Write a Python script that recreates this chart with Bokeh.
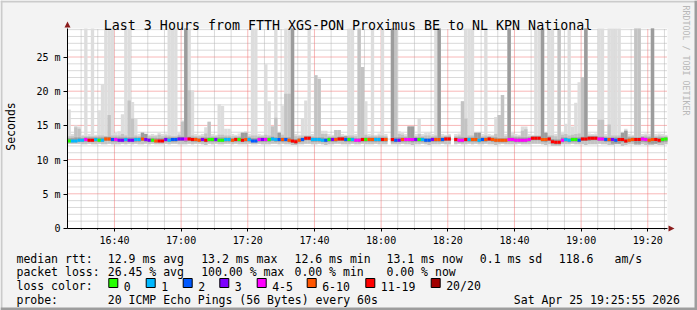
import numpy as np
from bokeh.plotting import figure
from bokeh.models import Range1d, FixedTicker, LinearAxis, ColumnDataSource
from bokeh.core.properties import value
from bokeh.embed import file_html
from bokeh.resources import INLINE

nan = float("nan")

# ---------------- data ----------------
START = "16:25:55"          # start of the 3-hour window
STEP_MIN = 1.0              # one sample per minute

# median RTT per sample (ms); nan = 20/20 loss
median = [
    12.8, 12.8, 12.8, 12.9, 12.9, 13.0, 12.9, 12.9, 13.0, 12.9, 12.9, 13.1, 13.1, 13.0, 13.0, 12.9, 12.9, 13.0, 12.9, 12.9,
    13.0, 13.0, 13.1, 13.0, 12.9, 12.9, 12.8, 12.8, 12.8, 13.0, 12.9, 13.0, 13.0, 13.1, 13.1, 13.1, 13.1, 13.0, 13.0, 12.9,
    13.0, 12.9, 13.0, 13.0, 13.0, 12.9, 12.9, 13.0, 13.0, 12.9, 13.0, 13.0, 12.9, 13.0, 13.0, 12.8, 12.8, 13.0, 13.0, 13.0,
    13.0, 13.1, 13.0, 13.0, 13.0, 13.0, 12.9, 12.8, 12.7, 12.9, 13.0, 13.2, 13.2, 13.0, 13.0, 13.0, 12.9, 12.9, 13.0, 13.0,
    13.0, 13.1, 13.1, 13.0, 13.0, 13.0, 12.9, 12.9, 13.0, 13.0, 13.0, 13.0, 13.0, 13.0, 13.0, 13.0, nan, 13.0, 12.9, 12.9,
    13.0, 13.0, 13.0, 13.0, 13.0, 13.0, 13.0, 12.9, 12.9, 13.0, 13.0, 13.0, 13.0, 13.1, 13.1, nan, 13.0, 12.9, 12.9, 13.0,
    13.0, 13.0, 13.0, 12.9, 13.0, 13.0, 13.1, 13.0, 12.9, 12.9, 12.9, 12.9, 13.0, 13.0, 12.9, 12.9, 12.9, 12.9, 13.0, 13.2,
    13.2, 13.2, 13.0, 13.0, 13.1, 12.7, 12.6, 12.6, 12.9, 13.0, 12.9, 13.0, 13.0, 12.9, 13.1, 13.1, 13.2, 13.2, 13.2, 13.1,
    13.1, 13.0, 13.0, 13.0, 12.9, 13.0, 13.0, 12.8, 12.9, 13.0, 13.0, 13.0, 13.1, 13.0, 12.9, 13.0, 13.0, 12.9, 13.0, 13.1,
]

# lost pings out of 20 per sample
loss = [
    0, 1, 1, 1, 1, 5, 15, 15, 1, 0, 1, 8, 8, 2, 5, 3, 3, 1, 3, 3,
    1, 1, 8, 3, 3, 0, 8, 15, 15, 3, 1, 2, 2, 3, 3, 5, 15, 15, 8, 8,
    3, 15, 0, 0, 3, 0, 0, 1, 1, 8, 15, 0, 15, 8, 1, 2, 2, 5, 3, 5,
    0, 1, 1, 2, 8, 2, 8, 15, 15, 8, 2, 15, 15, 1, 1, 1, 1, 2, 0, 3,
    8, 15, 15, 2, 0, 1, 5, 5, 15, 0, 8, 8, 1, 1, 15, 8, 20, 15, 2, 3,
    8, 5, 5, 5, 3, 0, 1, 2, 2, 3, 8, 8, 2, 15, 15, 20, 15, 5, 5, 15,
    1, 8, 8, 1, 2, 8, 15, 8, 8, 8, 8, 8, 5, 5, 5, 5, 5, 5, 5, 15,
    15, 15, 8, 8, 15, 15, 15, 15, 5, 1, 1, 0, 0, 2, 15, 15, 15, 15, 15, 5,
    5, 2, 8, 3, 2, 15, 15, 15, 8, 8, 15, 15, 5, 5, 8, 8, 15, 15, 0, 0,
]

# smoke: highest ping (ms; 40 = off the chart), inner quantile tops, lowest pings
smoke_max = [
    17.4, 13.8, 15.1, 14.9, 13.7, 40, 13.8, 40, 13.7, 17.3, 21.1, 40, 40, 40, 14.0, 14.2, 16.7, 40, 40, 18.5,
    16.1, 13.8, 14.1, 13.9, 13.7, 13.8, 13.7, 14.0, 13.8, 13.9, 40, 40, 40, 14.0, 15.8, 40, 40, 20.2, 13.8, 13.7,
    13.8, 14.8, 15.6, 13.8, 13.7, 18.2, 17.9, 14.6, 14.6, 13.8, 13.7, 13.9, 14.0, 14.2, 13.8, 40, 40, 13.8, 13.7, 24.0,
    18.6, 15.0, 40, 14.0, 18.0, 40, 40, 40, 13.8, 13.7, 16.1, 18.7, 40, 13.8, 22.4, 21.9, 14.3, 14.3, 13.8, 13.7,
    14.4, 14.4, 13.8, 13.7, 40, 40, 13.8, 40, 23.6, 18.6, 13.8, 40, 13.7, 13.9, 40, 13.8, nan, 40, 40, 14.2,
    14.0, 13.8, 14.9, 14.9, 13.8, 16.0, 13.8, 14.0, 14.0, 13.8, 40, 40, 13.8, 13.7, 13.8, nan, 13.8, 13.9, 18.6, 40,
    40, 40, 14.0, 14.0, 13.8, 40, 13.8, 13.7, 16.3, 16.6, 19.5, 13.8, 40, 14.0, 13.8, 13.7, 14.9, 14.9, 13.8, 13.7,
    40, 40, 40, 14.1, 40, 40, 13.8, 40, 14.0, 15.3, 40, 14.9, 18.4, 21.4, 22.1, 40, 13.9, 13.8, 13.9, 40,
    40, 13.8, 40, 40, 40, 40, 14.0, 14.6, 13.8, 13.7, 40, 40, 13.8, 13.9, 13.8, 40, 13.8, 13.9, 13.8, 13.7,
]
smoke_mid = [
    13.5, 13.5, 14.8, 14.6, 13.5, 13.5, 13.5, 13.5, 13.5, 13.6, 13.6, 13.5, 16.6, 13.6, 13.6, 13.6, 13.8, 13.6, 18.7, 16.1,
    13.6, 13.5, 14.0, 13.8, 13.5, 13.5, 13.5, 13.7, 13.5, 13.6, 13.6, 13.5, 13.5, 13.7, 15.6, 40, 20.2, 13.6, 13.5, 13.5,
    13.5, 13.9, 15.6, 13.5, 13.5, 13.7, 13.7, 13.6, 13.6, 13.5, 13.5, 13.5, 14.0, 14.0, 13.5, 13.6, 13.6, 13.5, 13.5, 13.7,
    13.6, 14.9, 16.2, 14.0, 13.7, 19.7, 19.7, 40, 13.5, 13.5, 13.6, 13.6, 13.6, 13.5, 22.4, 21.9, 13.8, 13.8, 13.5, 13.5,
    14.4, 14.4, 13.5, 13.5, 13.6, 13.6, 13.5, 40, 23.6, 13.7, 13.5, 13.6, 13.5, 13.6, 13.6, 13.5, nan, 40, 40, 13.8,
    13.7, 13.5, 14.9, 14.9, 13.5, 13.8, 13.5, 13.6, 13.6, 13.5, 13.6, 40, 13.5, 13.5, 13.6, nan, 13.5, 13.6, 18.6, 16.1,
    13.6, 13.6, 14.0, 14.0, 13.5, 13.6, 13.5, 13.5, 13.8, 16.6, 19.5, 13.5, 40, 13.6, 13.5, 13.5, 14.3, 14.5, 13.5, 13.5,
    13.6, 13.6, 40, 14.0, 13.6, 13.6, 13.5, 40, 13.7, 13.8, 13.6, 13.7, 13.8, 13.9, 22.1, 40, 13.6, 13.6, 13.6, 15.9,
    15.9, 13.5, 15.2, 13.6, 13.6, 13.6, 14.0, 14.3, 13.5, 13.5, 40, 40, 13.5, 13.6, 13.5, 40, 13.5, 13.6, 13.5, 13.5,
]
smoke_core = [
    13.2, 13.2, 13.3, 13.3, 13.2, 13.3, 13.3, 13.3, 13.3, 13.3, 13.3, 13.4, 13.4, 13.3, 13.3, 13.3, 13.3, 13.3, 13.3, 13.3,
    13.3, 13.3, 14.0, 13.8, 13.2, 13.2, 13.2, 13.2, 13.2, 13.3, 13.3, 13.3, 13.3, 13.4, 13.4, 40, 13.4, 13.3, 13.3, 13.2,
    13.3, 13.3, 13.3, 13.3, 13.3, 13.3, 13.3, 13.3, 13.3, 13.2, 13.3, 13.3, 14.0, 14.0, 13.3, 13.2, 13.2, 13.3, 13.3, 13.3,
    13.3, 13.4, 13.3, 14.0, 13.3, 13.3, 13.3, 40, 13.1, 13.2, 13.3, 13.5, 13.5, 13.3, 13.3, 13.3, 13.3, 13.2, 13.3, 13.3,
    13.3, 13.4, 13.4, 13.5, 13.3, 13.3, 13.2, 13.2, 13.3, 13.3, 13.3, 13.3, 13.3, 13.3, 13.3, 13.3, nan, 40, 13.3, 13.3,
    13.3, 13.3, 14.9, 14.9, 13.3, 13.3, 13.3, 13.2, 13.2, 13.3, 13.3, 40, 13.3, 13.4, 13.4, nan, 13.3, 13.3, 13.3, 13.3,
    13.3, 13.3, 14.0, 14.0, 13.3, 13.3, 13.4, 13.3, 13.3, 13.2, 13.2, 13.2, 40, 13.3, 13.3, 13.3, 13.3, 13.3, 13.3, 13.5,
    13.5, 13.5, 40, 14.0, 13.4, 13.1, 13.0, 13.0, 13.3, 13.3, 13.2, 13.3, 13.3, 13.3, 13.4, 40, 13.5, 13.5, 13.5, 13.4,
    13.4, 13.3, 13.3, 13.3, 13.3, 13.3, 14.0, 14.3, 13.3, 13.3, 13.3, 13.3, 13.4, 13.3, 13.3, 40, 13.3, 13.3, 13.3, 13.3,
]
smoke_min = [
    12.4, 12.4, 12.4, 12.4, 12.3, 12.3, 12.4, 12.3, 12.3, 12.4, 12.3, 12.3, 12.4, 12.3, 12.3, 12.3, 12.4, 12.3, 12.4, 12.3,
    12.4, 12.3, 12.3, 12.4, 12.3, 12.4, 12.3, 12.3, 12.3, 12.4, 12.3, 12.4, 12.4, 12.3, 12.3, 12.3, 12.4, 12.3, 12.4, 12.4,
    12.3, 12.2, 12.4, 12.3, 12.4, 12.3, 12.3, 12.4, 12.4, 12.3, 12.4, 12.3, 12.3, 12.3, 12.4, 12.3, 12.3, 12.4, 12.3, 12.3,
    12.3, 12.4, 12.4, 12.3, 12.4, 12.3, 12.3, 12.2, 12.2, 12.3, 12.3, 12.4, 12.4, 12.3, 12.3, 12.4, 12.3, 12.2, 12.3, 12.3,
    12.4, 12.4, 12.3, 12.3, 12.3, 12.4, 12.3, 12.3, 12.4, 12.3, 12.3, 12.3, 12.4, 12.3, 12.3, 12.3, nan, 12.3, 12.3, 12.3,
    12.4, 12.3, 12.3, 12.2, 12.3, 12.3, 12.4, 12.3, 12.2, 12.3, 12.3, 12.3, 12.4, 12.3, 12.3, nan, 12.3, 12.4, 12.3, 12.3,
    12.4, 12.3, 12.4, 12.3, 12.3, 12.4, 12.3, 12.3, 12.2, 12.3, 12.4, 12.3, 12.3, 12.3, 12.3, 12.4, 12.3, 12.3, 12.3, 12.4,
    12.4, 12.4, 12.3, 12.2, 12.3, 12.1, 12.1, 12.1, 12.3, 12.3, 12.3, 12.4, 12.3, 12.3, 12.3, 12.2, 12.3, 12.3, 12.3, 12.4,
    12.3, 12.3, 12.2, 12.2, 12.3, 12.3, 12.1, 12.2, 12.3, 12.3, 12.2, 12.2, 12.3, 12.2, 12.2, 12.2, 12.3, 12.2, 12.2, 12.3,
]
smoke_core_low = [
    12.6, 12.6, 12.6, 12.7, 12.7, 12.7, 12.7, 12.7, 12.7, 12.7, 12.7, 12.8, 12.8, 12.7, 12.7, 12.7, 12.7, 12.7, 12.7, 12.7,
    12.7, 12.7, 12.8, 12.7, 12.7, 12.7, 12.6, 12.6, 12.6, 12.7, 12.7, 12.7, 12.7, 12.8, 12.8, 12.7, 12.8, 12.7, 12.7, 12.7,
    12.7, 12.6, 12.7, 12.7, 12.7, 12.7, 12.7, 12.7, 12.7, 12.7, 12.7, 12.7, 12.7, 12.7, 12.7, 12.6, 12.6, 12.7, 12.7, 12.7,
    12.7, 12.8, 12.7, 12.7, 12.7, 12.7, 12.6, 12.5, 12.4, 12.6, 12.7, 12.9, 12.9, 12.7, 12.7, 12.7, 12.7, 12.6, 12.7, 12.7,
    12.7, 12.8, 12.8, 12.7, 12.7, 12.7, 12.7, 12.6, 12.7, 12.7, 12.7, 12.7, 12.7, 12.7, 12.7, 12.7, nan, 12.6, 12.6, 12.7,
    12.7, 12.7, 12.7, 12.6, 12.7, 12.7, 12.7, 12.6, 12.6, 12.7, 12.7, 12.7, 12.7, 12.8, 12.8, nan, 12.7, 12.6, 12.6, 12.7,
    12.7, 12.7, 12.7, 12.6, 12.7, 12.7, 12.8, 12.7, 12.6, 12.6, 12.6, 12.6, 12.7, 12.7, 12.6, 12.6, 12.6, 12.6, 12.7, 12.9,
    12.9, 12.9, 12.7, 12.6, 12.8, 12.4, 12.3, 12.3, 12.6, 12.7, 12.6, 12.7, 12.7, 12.6, 12.8, 12.8, 12.8, 12.9, 12.9, 12.8,
    12.8, 12.7, 12.7, 12.4, 12.4, 12.4, 12.6, 12.5, 12.6, 12.7, 12.4, 12.4, 12.7, 12.6, 12.4, 12.4, 12.4, 12.5, 12.6, 12.7,
]

LOSS_LABELS = ["0", "1", "2", "3", "4-5", "6-10", "11-19", "20/20"]
LOSS_UPPER = [0, 1, 2, 3, 5, 10, 19, 20]
LOSS_COLORS = ["#26ff00", "#00b8ff", "#0059ff", "#7e00ff", "#ff00ff", "#ff5500", "#ff0000", "#a10000"]

Y_TICKS = [0, 5, 10, 15, 20, 25]
Y_TICK_LABELS = ["0", "5 m", "10 m", "15 m", "20 m", "25 m"]
X_TICK_LABELS = ["16:40", "17:00", "17:20", "17:40", "18:00", "18:20", "18:40", "19:00", "19:20"]

TITLE = "Last 3 Hours from FTTH XGS-PON Proximus BE to NL KPN National"
STATS = [
    ("median rtt:", ["12.9 ms avg", "13.2 ms max", "12.6 ms min", "13.1 ms now", "0.1 ms sd", "118.6", "am/s"]),
    ("packet loss:", ["26.45 % avg", "100.00 % max", "0.00 % min", "0.00 % now"]),
]
PROBE = "20 ICMP Echo Pings (56 Bytes) every 60s"
STAMP = "Sat Apr 25 19:25:55 2026"


# ---------------- build ----------------
def hm(s):
    parts = [int(v) for v in s.split(":")]
    return parts[0] * 60 + parts[1] + (parts[2] / 60.0 if len(parts) > 2 else 0.0)


def loss_color(c):
    for up, col in zip(LOSS_UPPER, LOSS_COLORS):
        if c <= up:
            return col
    return LOSS_COLORS[-1]


W, H = 697, 310
PLOT_L, PLOT_R, PLOT_T, PLOT_B = 67, 667, 28, 228   # graph area in pixels
YMAX = 29.24
FONT = "DejaVu Sans Mono"

t0 = hm(START)
n = len(median)
t1 = t0 + n * STEP_MIN
left = t0 + STEP_MIN * np.arange(n)
right = left + STEP_MIN


def clip(a):
    return np.minimum(np.array(a, dtype=float), YMAX)


src = ColumnDataSource(dict(
    left=left, right=right,
    med=np.array(median, dtype=float),
    smax=clip(smoke_max), smid=clip(smoke_mid), score=clip(smoke_core),
    smin=np.array(smoke_min, dtype=float),
    scorelow=np.array(smoke_core_low, dtype=float),
    col=[loss_color(c) for c in loss],
))

kx = (t1 - t0) / (PLOT_R - PLOT_L)
ky = YMAX / (PLOT_B - PLOT_T)
p = figure(width=W, height=H,
           x_range=Range1d(t0 - PLOT_L * kx, t1 + (W - PLOT_R) * kx),
           y_range=Range1d(-(H - PLOT_B) * ky, YMAX + PLOT_T * ky),
           x_axis_type=None, y_axis_type=None,
           output_backend="svg", toolbar_location=None, min_border=0,
           background_fill_color="#f3f3f3", border_fill_color="#f3f3f3", title=None)
p.outline_line_color = None
p.extra_x_ranges = {"px": Range1d(0, W)}
p.extra_y_ranges = {"px": Range1d(H, 0)}
PX = dict(x_range_name="px", y_range_name="px")

# graph canvas
p.quad(left=[t0], right=[t1], bottom=[0], top=[YMAX], fill_color="white", line_color=None)

# grid (dotted, rrdtool style)
x_ticks = [hm(s) for s in X_TICK_LABELS]
x_minor = [v for v in np.arange(990, t1, 5) if v not in x_ticks]
y_minor = [v for v in range(1, 30) if v not in Y_TICKS]
half_y = 0.5 * ky   # put horizontal grid lines on pixel centres
p.segment(x0=x_minor, y0=0, x1=x_minor, y1=YMAX, line_color="#b4b4b4", line_dash="1 1", line_width=1)
p.segment(x0=t0, y0=np.array(y_minor) + half_y, x1=t1, y1=np.array(y_minor) + half_y,
          line_color="#b4b4b4", line_dash="1 1", line_width=1)
p.segment(x0=x_ticks, y0=0, x1=x_ticks, y1=YMAX, line_color="#f07070", line_dash="1 1", line_width=1)
p.segment(x0=t0, y0=np.array(Y_TICKS[1:]) + half_y, x1=t1, y1=np.array(Y_TICKS[1:]) + half_y,
          line_color="#f07070", line_dash="1 1", line_width=1)

# smoke + median
p.quad(left="left", right="right", bottom="smin", top="smax", source=src,
       fill_color="#dddddd", line_color=None)
p.quad(left="left", right="right", bottom="smin", top="smid", source=src,
       fill_color="#c3c3c3", line_color=None)
p.quad(left="left", right="right", bottom="scorelow", top="score", source=src,
       fill_color="#9c9c9c", line_color=None)
p.segment(x0="left", y0="med", x1="right", y1="med", source=src,
          line_color="col", line_width=3)

# axes (drawn at the graph edges)
xaxis = LinearAxis(ticker=FixedTicker(ticks=x_ticks, minor_ticks=x_minor),
                   fixed_location=0, bounds=(t0, t1))
xaxis.major_label_overrides = {v: s for v, s in zip(x_ticks, X_TICK_LABELS)}
yaxis = LinearAxis(ticker=FixedTicker(ticks=Y_TICKS, minor_ticks=y_minor),
                   fixed_location=t0, bounds=(0, YMAX))
yaxis.major_label_overrides = {v: s for v, s in zip(Y_TICKS, Y_TICK_LABELS)}
for ax in (xaxis, yaxis):
    ax.axis_line_color = "black"
    ax.major_tick_line_color = "black"
    ax.minor_tick_line_color = "black"
    ax.major_tick_in = 0
    ax.minor_tick_in = 0
    ax.major_label_text_font = FONT
    ax.major_label_text_font_size = "10px"
    ax.major_label_text_color = "black"
xaxis.major_tick_out = 3
xaxis.minor_tick_out = 1
xaxis.major_label_standoff = 3
yaxis.major_tick_out = 4
yaxis.minor_tick_out = 0
yaxis.major_label_standoff = 3
p.add_layout(xaxis, "below")
p.add_layout(yaxis, "left")

# arrows
p.patch(x=[64, 70, 67], y=[27, 27, 21], fill_color="#8b1c1c", line_color=None, **PX)
p.patch(x=[668, 668, 674], y=[225, 231, 228], fill_color="#8b1c1c", line_color=None, **PX)


def label(x, y, text, size="11.5px", color="black", align="left", angle=0.0):
    p.text(x=[x], y=[y], text=[text], text_font=value(FONT), text_font_size=value(size),
           text_color=color, text_align=align, text_baseline="alphabetic",
           angle=angle, **PX)


label(347.5, 24.5, TITLE, size="13.3px", align="center")
label(10, 126, "Seconds", size="11.5px", align="center", angle=np.pi / 2)
label(685, 60, "RRDTOOL / TOBI OETIKER", size="8.3px", color="#b8b8b8",
      align="center", angle=-np.pi / 2)

row_y = [258.3, 271.7, 285.6, 299.3]
col_x = [107.3, 200.7, 294.0, 386.0, 479.3, 558.3, 614.0]
for (head, items), yy in zip(STATS, row_y[:2]):
    label(16, yy, head)
    for txt, xx in zip(items, col_x):
        label(xx, yy, txt)

label(16, row_y[2], "loss color:")
sq_x = np.array([108.3, 145.7, 182.7, 219.3, 256.7, 306.7, 365.3, 430.7])
p.quad(left=sq_x, right=sq_x + 9, top=278, bottom=287, fill_color=LOSS_COLORS,
       line_color="black", line_width=1, **PX)
for lab, xx in zip(LOSS_LABELS, sq_x):
    label(xx + 15, row_y[2], lab)

label(16, row_y[3], "probe:")
label(107.3, row_y[3], PROBE)
label(513.3, row_y[3], STAMP)

# image frame (3-D border)
p.quad(left=[0, 0, 0, W - 3], right=[W, 2, W, W], top=[0, 0, H - 3, 0], bottom=[2, H, H, H],
       fill_color=["#cbcbcb", "#cbcbcb", "#9d9d9d", "#9d9d9d"], line_color=None, **PX)

open("out.html", "w").write(file_html(p, INLINE))
